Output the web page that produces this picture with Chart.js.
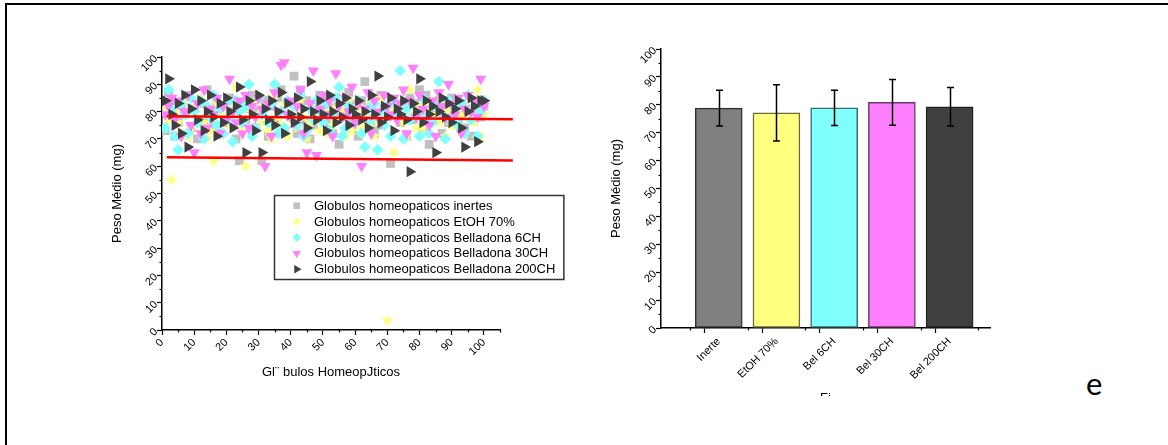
<!DOCTYPE html>
<html><head><meta charset="utf-8">
<script src="https://cdn.jsdelivr.net/npm/chart.js@4.4.1/dist/chart.umd.min.js"></script>
<style>
html,body{margin:0;padding:0;background:#fff;}
body{width:1168px;height:445px;position:relative;overflow:hidden;font-family:"Liberation Sans",Arial,sans-serif;}
#ftop{position:absolute;left:5px;top:3px;width:1163px;height:2px;background:#000;}
#fleft{position:absolute;left:5px;top:3px;width:2px;height:442px;background:#000;}
#w1{position:absolute;left:100px;top:40px;width:475px;height:360px;}
#w2{position:absolute;left:590px;top:40px;width:420px;height:356px;overflow:hidden;}
#note{position:absolute;left:1086px;top:363px;font:31px Lato,"Open Sans",sans-serif;color:#000;line-height:40px;}
</style></head>
<body>
<div id="ftop"></div><div id="fleft"></div>
<div id="w1"><canvas id="c1" width="475" height="360"></canvas></div>
<div id="w2"><canvas id="c2" width="420" height="380"></canvas></div>
<div id="note">e</div>
<script>
// ---------- scatter data (one value per globule, x = 1..100) ----------
const inertes = [73,87,84,71,76,82,79,86,74,81, 70,83,77,88,80,75,84,72,82,76,
 85,80,70,62,83,77,81,86,74,80, 62,84,71,82,76,85,88,73,83,78,
 93,72,88,77,84,70,75,82,86,80, 76,83,72,85,68,81,78,87,74,82,
 71,84,91,77,83,72,75,86,81,78, 61,84,80,76,82,71,85,77,83,88,
 74,86,68,81,78,84,72,82,76,85, 80,77,83,74,81,71,81,84,78,82];
const etoh70 = [82,77,55,80,76,72,84,71,74,81, 78,85,76,70,73,62,83,79,72,82,
 75,80,89,78,74,60,81,72,84,79, 76,82,73,70,86,78,75,83,71,77,
 81,74,84,78,70,76,82,79,73,85, 72,80,75,83,78,81,71,84,73,79,
 82,74,80,74,83,71,76,85,79,3.5, 81,65,78,83,76,71,88,79,74,82,
 74,80,72,84,79,76,82,71,80,75, 75,83,79,72,81,78,76,88,71,79];
const bel6ch = [74,88,81,71,66,83,79,72,85,80, 76,84,70,82,78,86,75,81,72,83,
 77,69,84,80,76,82,90,71,74,85, 79,81,76,83,90,72,80,74,84,78,
 82,75,86,71,73,81,77,84,80,76, 83,73,79,85,89,71,74,82,80,76,
 84,72,67,81,77,83,66,80,75,82, 71,84,79,95,70,81,77,83,79,71,
 85,78,72,76,82,91,79,70,84,77, 81,75,83,72,86,77,82,71,80,84];
const bel30ch = [79,82,85,77,84,71,80,86,75,65, 83,72,88,74,81,79,85,72,82,77,
 92,80,76,84,72,86,74,82,78,85, 81,60,83,71,87,80,97,98,79,84,
 76,82,88,72,65,83,95,64,81,86, 79,84,71,94,82,78,85,80,89,76,
 83,60,81,87,72,84,80,76,86,82, 79,85,77,83,88,72,84,96,78,86,
 81,77,75,84,71,87,82,78,90,83, 79,85,72,81,86,80,84,78,92,82];
const bel200ch = [84,92,79,75,83,72,86,67,81,88, 77,84,73,80,86,78,71,83,76,85,
 80,74,82,89,77,65,84,79,73,86, 65,81,77,84,75,80,87,72,83,79,
 76,85,78,81,74,91,80,77,84,79, 73,86,80,76,83,78,85,75,81,79,
 84,77,80,74,86,79,93,76,82,78, 85,73,81,79,84,77,58,83,80,92,
 76,84,79,82,65,80,85,78,83,76, 81,84,74,67,80,85,82,69,84,84];
// red reference lines [start, end]
const upperLineX = [1.5, 109];
const upperLineY = [78.3, 77.2];
const lowerLineX = [1.5, 109];
const lowerLineY = [63.3, 62.1];
const scatterLabels = ['Globulos homeopaticos inertes','Globulos homeopaticos EtOH 70%',
 'Globulos homeopaticos Belladona 6CH','Globulos homeopaticos Belladona 30CH','Globulos homeopaticos Belladona 200CH'];
const xTicksScatter = [0,10,20,30,40,50,60,70,80,90,100];

// ---------- bar data ----------
const barLabels = ['Inerte','EtOH 70%','Bel 6CH','Bel 30CH','Bel 200CH'];
const barMeans = [78.8, 77.1, 78.9, 80.9, 79.3];
const barSD = [6.4, 10.1, 6.3, 8.2, 6.9];

const FONT = '"Liberation Sans", Arial, sans-serif';
Chart.defaults.font.family = FONT;
Chart.defaults.color = '#000';

function makeStar(r, color){
  const s = Math.ceil(r*2)+2, c = document.createElement('canvas');
  c.width = s; c.height = s;
  const g = c.getContext('2d'); g.fillStyle = color; g.beginPath();
  for (let k=0;k<10;k++){ const rr = k%2 ? r*0.45 : r; const a = -Math.PI/2 + k*Math.PI/5;
    g.lineTo(s/2+rr*Math.cos(a), s/2+rr*Math.sin(a)); }
  g.closePath(); g.fill(); return c;
}
const starBig = makeStar(6.2,'#ffff80');
const starSmall = makeStar(5,'#ffff80');

function toPts(arr){ return arr.map((v,i)=>({x:i+1,y:v})); }
function linePts(xs, ys){ return xs.map((x,i)=>({x:x,y:ys[i]})); }

function drawMarker(ctx, style, x, y, r, rot, color){
  ctx.save(); ctx.fillStyle = color; ctx.translate(x,y); ctx.rotate(rot*Math.PI/180); ctx.beginPath();
  if (style==='rect'){ const s=r*Math.SQRT1_2; ctx.rect(-s,-s,2*s,2*s); }
  else if (style==='rectRot'){ ctx.moveTo(0,-r); ctx.lineTo(r,0); ctx.lineTo(0,r); ctx.lineTo(-r,0); ctx.closePath(); }
  else if (style==='triangle'){ for(let k=0;k<3;k++){const a=k*2*Math.PI/3; ctx.lineTo(Math.sin(a)*r,-Math.cos(a)*r);} ctx.closePath(); }
  if (style instanceof HTMLCanvasElement){ ctx.drawImage(style,-style.width/2,-style.height/2); }
  else ctx.fill();
  ctx.restore();
}

const minorTicks = {
  id:'minorTicks',
  afterDraw(chart, args, opts){
    const ctx = chart.ctx; ctx.save(); ctx.strokeStyle='#000'; ctx.lineWidth=1.2;
    const xs = chart.scales.x, ys = chart.scales.y;
    (opts.x||[]).forEach(v=>{ const p = Math.round(xs.getPixelForValue(v))+0.5; ctx.beginPath(); ctx.moveTo(p, xs.top); ctx.lineTo(p, xs.top+2.5); ctx.stroke(); });
    (opts.y||[]).forEach(v=>{ const p = Math.round(ys.getPixelForValue(v))+0.5; ctx.beginPath(); ctx.moveTo(ys.right, p); ctx.lineTo(ys.right-2.5, p); ctx.stroke(); });
    ctx.restore();
  }
};

const boxLegend = {
  id:'boxLegend',
  afterDraw(chart){
    const ctx = chart.ctx, a = chart.chartArea;
    const x0 = a.left + 112, y0 = a.top + 138;
    ctx.save(); ctx.font = '13px ' + FONT;
    const items = chart.data.datasets.filter(d=>d.inLegend);
    const maxW = Math.max(...items.map(d=>ctx.measureText(d.label).width));
    const w = 40 + maxW + 8, h = 84;
    ctx.fillStyle='#fff'; ctx.fillRect(x0,y0,w,h);
    ctx.strokeStyle='#333'; ctx.lineWidth=1.5; ctx.strokeRect(x0+0.5,y0+0.5,w,h);
    items.forEach((d,i)=>{
      const cy = y0 + 10.7 + i*15.9;
      drawMarker(ctx, d.pointStyle===starBig ? starSmall : d.pointStyle, x0+22.7, cy, d.pointRadius*0.75, d.rotation||0, d.backgroundColor);
      ctx.fillStyle='#000'; ctx.textBaseline='middle'; ctx.textAlign='left';
      ctx.fillText(d.label, x0+40, cy+0.5);
    });
    ctx.restore();
  }
};

const majorColor10 = c => (c.tick && c.tick.value%10===0 && c.tick.value<=100) ? '#000' : 'rgba(0,0,0,0)';

new Chart(document.getElementById('c1'), {
  type:'scatter',
  data:{ datasets:[
    {label:scatterLabels[0], data:toPts(inertes), pointStyle:'rect', pointRadius:6.2, backgroundColor:'#c0c0c0', borderWidth:0, order:5, inLegend:true},
    {label:scatterLabels[1], data:toPts(etoh70), pointStyle:starBig, pointRadius:6.2, backgroundColor:'#ffff80', borderWidth:0, order:4, inLegend:true},
    {label:scatterLabels[2], data:toPts(bel6ch), pointStyle:'rectRot', pointRadius:5.9, backgroundColor:'#80ffff', borderWidth:0, order:3, inLegend:true},
    {label:scatterLabels[3], data:toPts(bel30ch), pointStyle:'triangle', rotation:180, pointRotation:180, pointRadius:6.4, backgroundColor:'#ff80ff', borderWidth:0, order:2, inLegend:true},
    {label:scatterLabels[4], data:toPts(bel200ch), pointStyle:'triangle', rotation:90, pointRotation:90, pointRadius:6.5, backgroundColor:'#404040', borderWidth:0, order:1, inLegend:true},
    {type:'line', label:'upper', data:linePts(upperLineX, upperLineY), borderColor:'#ff0000', borderWidth:2.5, pointRadius:0, clip:false, order:0},
    {type:'line', label:'lower', data:linePts(lowerLineX, lowerLineY), borderColor:'#ff0000', borderWidth:2.5, pointRadius:0, clip:false, order:0}
  ]},
  options:{
    responsive:false, animation:false, devicePixelRatio:1,
    layout:{padding:{left:6, top:17, right:75, bottom:16}},
    plugins:{legend:{display:false}, tooltip:{enabled:false},
      minorTicks:{x:[5,15,25,35,45,55,65,75,85,95,105], y:[5,15,25,35,45,55,65,75,85,95]}},
    scales:{
      x:{type:'linear', min:0, max:105, afterFit:s=>{s.height=54;},
        ticks:{stepSize:5, includeBounds:false, autoSkip:false, minRotation:45, maxRotation:45, padding:1, font:{size:11},
          callback:v=> xTicksScatter.includes(v) ? String(v) : ''},
        grid:{drawOnChartArea:false, tickLength:5, tickWidth:1.2, tickColor:majorColor10},
        border:{color:'#000', width:1.5},
        title:{display:true, text:'Gl¨ bulos HomeopJticos', font:{size:13}, padding:{top:4,bottom:4}}},
      y:{min:0, max:100, afterFit:s=>{s.width=56;},
        ticks:{stepSize:5, autoSkip:false, minRotation:45, maxRotation:45, padding:1, font:{size:11},
          callback:v=> v%10===0 ? String(v) : ''},
        grid:{drawOnChartArea:false, tickLength:5, tickWidth:1.2, tickColor:majorColor10},
        border:{color:'#000', width:1.5},
        title:{display:true, text:'Peso Médio (mg)', font:{size:13}, padding:{top:4,bottom:4}}}
    }
  },
  plugins:[minorTicks, boxLegend]
});

const errorBars = {
  id:'errorBars',
  afterDatasetsDraw(chart){
    const ctx = chart.ctx, meta = chart.getDatasetMeta(0), ys = chart.scales.y;
    ctx.save(); ctx.strokeStyle='#000'; ctx.lineWidth=1.5;
    meta.data.forEach((bar,i)=>{
      const x = Math.round(bar.x)+0.5, t = ys.getPixelForValue(barMeans[i]+barSD[i]), b = ys.getPixelForValue(barMeans[i]-barSD[i]);
      ctx.beginPath(); ctx.moveTo(x,t); ctx.lineTo(x,b);
      ctx.moveTo(x-3.5,t); ctx.lineTo(x+3.5,t); ctx.moveTo(x-3.5,b); ctx.lineTo(x+3.5,b); ctx.stroke();
    });
    ctx.restore();
  }
};

new Chart(document.getElementById('c2'), {
  type:'bar',
  data:{ datasets:[{
    data: barMeans.map((v,i)=>({x:i+1, y:v})),
    backgroundColor:['#808080','#ffff80','#80ffff','#ff80ff','#404040'],
    borderColor:['#303030','#6b6b3a','#3a6b6b','#6b3a6b','#202020'],
    borderWidth:1.5, borderSkipped:false, barThickness:47
  }]},
  options:{
    responsive:false, animation:false, devicePixelRatio:1,
    layout:{padding:{left:15, top:9, right:20, bottom:10}},
    plugins:{legend:{display:false}, tooltip:{enabled:false},
      minorTicks:{x:[0.5,1.5,2.5,3.5,4.5,5.5], y:[5,15,25,35,45,55,65,75,85,95]}},
    scales:{
      x:{type:'linear', min:0, max:5.7, offset:false, afterFit:s=>{s.height=82;},
        ticks:{stepSize:0.5, includeBounds:false, autoSkip:false, minRotation:45, maxRotation:45, padding:2, font:{size:11},
          callback:v=> (Number.isInteger(v) && v>=1 && v<=barLabels.length) ? barLabels[v-1] : ''},
        grid:{drawOnChartArea:false, tickLength:5, tickWidth:1.2, tickColor:c=> (c.tick && Number.isInteger(c.tick.value)) ? '#000' : 'rgba(0,0,0,0)'},
        border:{color:'#000', width:1.5},
        title:{display:true, text:'Fi', font:{size:13}, padding:{top:4,bottom:4}}},
      y:{min:0, max:100, afterFit:s=>{s.width=56;},
        ticks:{stepSize:5, autoSkip:false, minRotation:45, maxRotation:45, padding:1, font:{size:11},
          callback:v=> v%10===0 ? String(v) : ''},
        grid:{drawOnChartArea:false, tickLength:5, tickWidth:1.2, tickColor:majorColor10},
        border:{color:'#000', width:1.5},
        title:{display:true, text:'Peso Médio (mg)', font:{size:13}, padding:{top:4,bottom:4}}}
    }
  },
  plugins:[minorTicks, errorBars]
});
</script>
</body></html>
